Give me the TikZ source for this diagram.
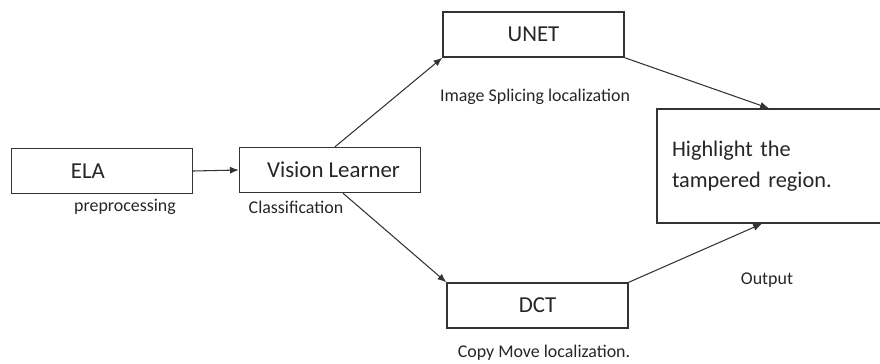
\documentclass[tikz,border=0pt]{standalone}
\usepackage{fontspec}
\setmainfont{Carlito}
\usetikzlibrary{arrows.meta,positioning}

\begin{document}
\begin{tikzpicture}[x=0.02cm,y=-0.02cm,
  every node/.style={font=\fontsize{13}{15}\selectfont,text=black!85},
  blockbox/.style={draw=black!80,line width=.8pt,minimum width=181*0.02cm,minimum height=45*0.02cm,inner sep=0pt},
  tag/.style={font=\fontsize{10.2}{12}\selectfont,inner sep=0pt},
  link/.style={draw=black!80,line width=.6pt,-{Latex[length=5pt,width=4pt]}}]
\useasboundingbox (0,0) rectangle (880,363);
% boxes
\node[blockbox] (ela) at (102,171) {\hspace*{-16pt}ELA};
\node[blockbox] (vl) at (330,170) {\hspace*{4pt}Vision Learner};
\node[blockbox] (unet) at (533.5,34.5) {UNET};
\node[blockbox] (dct) at (537.5,305.5) {DCT};
\node[blockbox,minimum width=224*0.02cm,minimum height=114*0.02cm,inner xsep=15*0.02cm,
      text width=194*0.02cm,align=left,font=\fontsize{12.7}{17.5}\selectfont] (out) at (769,166)
      {Highlight the\\tampered region.\\[-9pt]};
% labels
\node[tag] (pre) at (125,207) {preprocessing};
\node[tag] (cls) at (296,207) {Classification};
\node[tag] (spl) at (535,97) {Image Splicing localization};
\node[tag] (opt) at (767,280) {Output};
\node[tag] (cml) at (544,353) {Copy Move localization.};
% arrows
\draw[link] (ela.east) -- (vl.west);
\draw[link] ([xshift=0.1cm]vl.north) -- (unet.south west);
\draw[link] ([xshift=0.26cm]vl.south) -- (dct.north west);
\draw[link] (unet.south east) -- (out.north);
\draw[link] (dct.north east) -- ([xshift=-0.14cm]out.south);
\end{tikzpicture}
\end{document}
